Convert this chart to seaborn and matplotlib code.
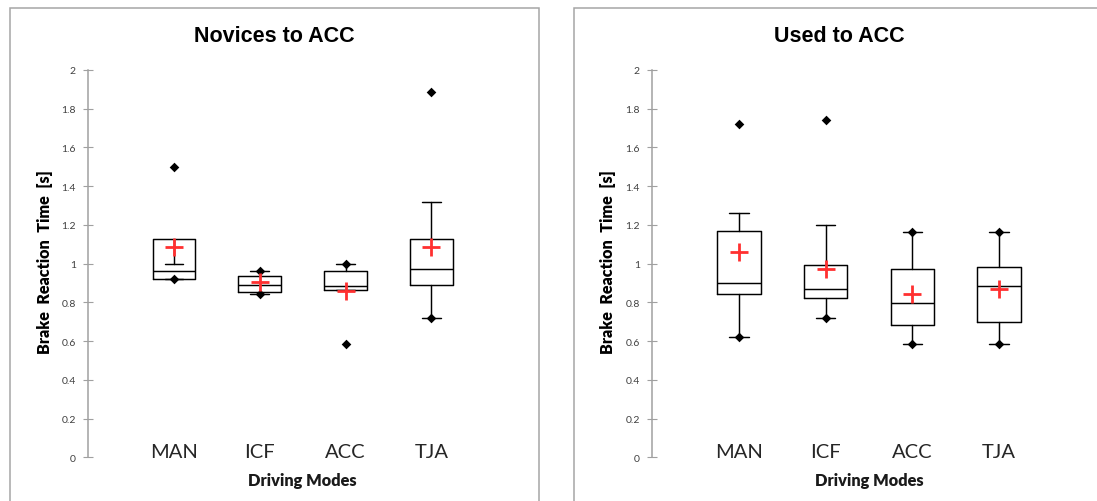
import numpy as np
import pandas as pd
import matplotlib
matplotlib.use("Agg")
import matplotlib.pyplot as plt
import seaborn as sns
from matplotlib.patches import Rectangle

# ---------------- data ----------------
modes = ["MAN", "ICF", "ACC", "TJA"]
titles = ["Novices to ACC", "Used to ACC"]
yticks = [0, 0.2, 0.4, 0.6, 0.8, 1.0, 1.2, 1.4, 1.6, 1.8, 2.0]

nov_q1 = [0.919, 0.855, 0.862, 0.891]
nov_med = [0.964, 0.891, 0.883, 0.971]
nov_q3 = [1.127, 0.935, 0.964, 1.127]
nov_whislo = [0.919, 0.842, 0.862, 0.721]
nov_whishi = [1.000, 0.964, 1.000, 1.320]
nov_min = [0.919, 0.842, 0.583, 0.721]
nov_max = [1.499, 0.964, 1.000, 1.885]
nov_mean = [1.088, 0.903, 0.860, 1.088]

used_q1 = [0.842, 0.821, 0.685, 0.699]
used_med = [0.898, 0.871, 0.798, 0.885]
used_q3 = [1.170, 0.991, 0.971, 0.984]
used_whislo = [0.619, 0.719, 0.583, 0.583]
used_whishi = [1.262, 1.201, 1.163, 1.163]
used_min = [0.619, 0.719, 0.583, 0.583]
used_max = [1.719, 1.742, 1.163, 1.163]
used_mean = [1.060, 0.974, 0.845, 0.867]

groups = [
    (nov_q1, nov_med, nov_q3, nov_whislo, nov_whishi, nov_min, nov_max, nov_mean),
    (used_q1, used_med, used_q3, used_whislo, used_whishi, used_min, used_max, used_mean),
]

# ---------------- style ----------------
sns.set_theme(style="white")
plt.rcParams["font.family"] = ["Lato", "DejaVu Sans"]

W, H = 1097, 502
fig = plt.figure(figsize=(W / 100, H / 100), dpi=100)
fig.patch.set_facecolor("white")

frame_col = "#a6a6a6"
axis_col = "#a0a0a0"
red = "#ff3030"

# outer chart frames
fig.add_artist(Rectangle((10 / W, -0.05), 529 / W, 1.05 - 9 / H, transform=fig.transFigure,
                         fill=False, edgecolor=frame_col, lw=1.1, clip_on=False))
fig.add_artist(Rectangle((574.3 / W, -0.05), 0.6, 1.05 - 9 / H, transform=fig.transFigure,
                         fill=False, edgecolor=frame_col, lw=1.1, clip_on=False))

ax_rects = [
    [88.3 / W, 1 - 458.3 / H, 428.7 / W, 387.3 / H],
    [652.3 / W, 1 - 458.3 / H, 433.4 / W, 387.3 / H],
]
title_x = [274.5 / W, 839 / W]

for k, (rect, grp) in enumerate(zip(ax_rects, groups)):
    q1, med, q3, wlo, whi, mn, mx, mean = grp
    ax = fig.add_axes(rect)
    ax.set_facecolor("none")
    pos = np.arange(len(modes))

    stats = []
    for i in range(len(modes)):
        stats.append(dict(q1=q1[i], med=med[i], q3=q3[i], whislo=wlo[i], whishi=whi[i],
                          fliers=[], mean=mean[i], label=modes[i]))
    lp = dict(color="black", lw=1.05)
    ax.bxp(stats, positions=pos, widths=0.5, capwidths=0.22, showfliers=False,
           showmeans=False, manage_ticks=False, boxprops=lp, whiskerprops=lp,
           capprops=lp, medianprops=lp)

    ext = pd.DataFrame({"pos": np.concatenate([pos, pos]), "value": mn + mx})
    sns.scatterplot(data=ext, x="pos", y="value", marker="D", s=24, color="black",
                    linewidth=0, ax=ax, legend=False, zorder=4)
    mdf = pd.DataFrame({"pos": pos, "value": mean})
    sns.scatterplot(data=mdf, x="pos", y="value", marker="+", s=175, color=red,
                    linewidth=2.0, ax=ax, legend=False, zorder=5)

    ax.set_xlim(-1, 4)
    ax.set_ylim(0, 2)
    ax.set_yticks(yticks)
    ax.set_yticklabels([f"{v:g}" for v in yticks], fontsize=7.5, color="#404040")
    ax.tick_params(axis="y", direction="inout", length=7.2, width=0.8, color=axis_col,
                   pad=5.3, left=True)
    ax.set_xticks(pos)
    ax.set_xticklabels(modes, fontsize=14.5, color="#262626")
    ax.tick_params(axis="x", length=0, pad=0, bottom=True)
    for lab in ax.get_xticklabels():
        lab.set_verticalalignment("baseline")

    for s in ["top", "right", "bottom"]:
        ax.spines[s].set_visible(False)
    ax.spines["left"].set_color(axis_col)
    ax.spines["left"].set_linewidth(1.1)

    ax.set_xlabel("Driving Modes", fontsize=11.8, fontweight="heavy", color="#1a1a1a")
    ax.xaxis.set_label_coords(0.5, -0.038)
    ax.set_ylabel("Brake  Reaction  Time  [s]", fontsize=11.6, fontweight="heavy", color="black")
    ax.yaxis.set_label_coords(-0.083, 0.5056)

    fig.text(title_x[k], 1 - 41.7 / H, titles[k], ha="center", va="baseline",
             fontsize=15.5, fontweight="bold", family=["Liberation Sans", "DejaVu Sans"],
             color="black")

fig.savefig("out.png", dpi=100, facecolor="white")
